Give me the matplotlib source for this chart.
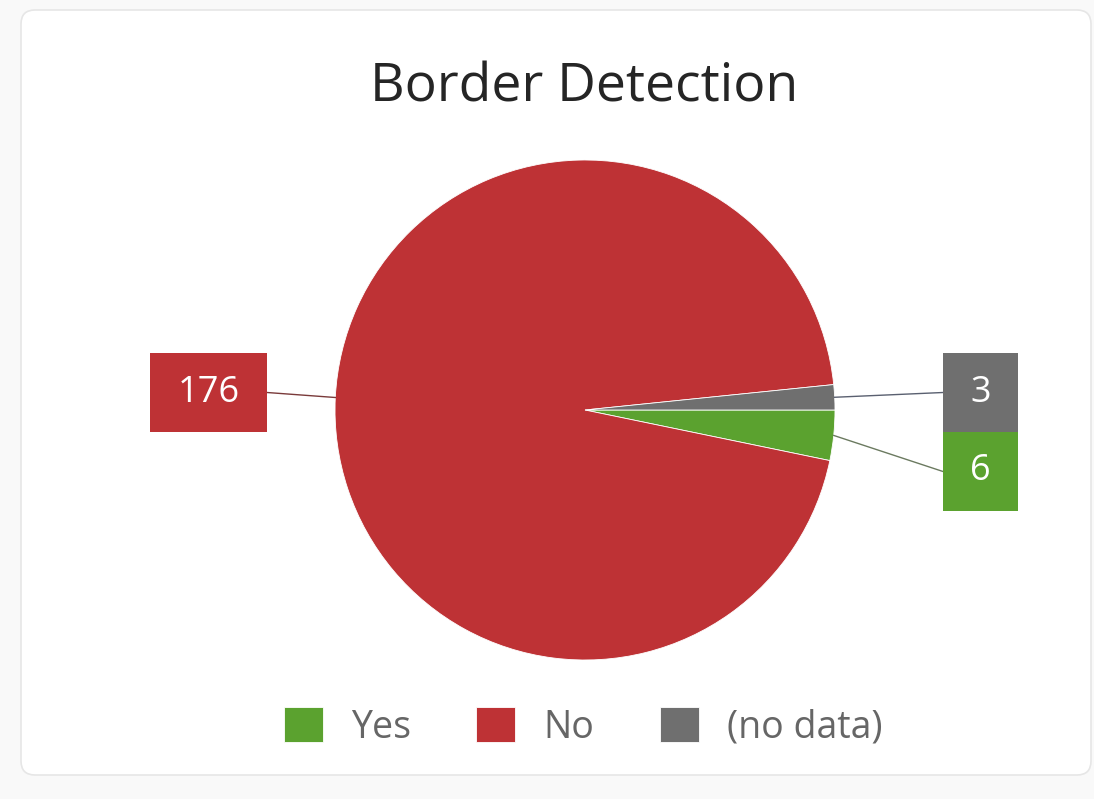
"""
Border Detection pie chart
"""
import matplotlib.pyplot as plt
from matplotlib.patches import Rectangle, FancyBboxPatch
import numpy as np

# data
labels = ['Yes', 'No', '(no data)']
values = [6, 176, 3]
colors = ['#5ba22f', '#be3235', '#6f6f6f']

W, H = 1094, 799
plt.rcParams['font.family'] = ['Open Sans', 'DejaVu Sans']

fig = plt.figure(figsize=(W / 100, H / 100), dpi=100, facecolor='#f9f9f9')
ax = fig.add_axes([0, 0, 1, 1])


def py(y):
    # pixel row (top-down) -> data y
    return H - y


# card background
card = FancyBboxPatch((21, py(775)), 1070, 765,
                      boxstyle='round,pad=0,rounding_size=14',
                      fc='white', ec='#e6e6e6', lw=1.2)
ax.add_patch(card)

# pie
cx, cy, r = 585, py(410), 250
wedges, _ = ax.pie(values, colors=colors, startangle=0, counterclock=False,
                   center=(cx, cy), radius=r,
                   wedgeprops=dict(edgecolor='white', linewidth=0.6))

ax.set_xlim(0, W)
ax.set_ylim(0, H)
ax.set_aspect('equal')
ax.axis('off')

# label boxes: (x0, top, width, height) in pixels, per slice
boxes = {
    1: (150, 353, 117, 79),
    2: (943, 353, 75, 79),
    0: (943, 432, 75, 79),
}
line_colors = {0: '#6b7a60', 1: '#7a3a3a', 2: '#5a6070'}

for i, (x0, top, bw, bh) in boxes.items():
    w = wedges[i]
    bcy = py(top + bh / 2)
    ax.add_patch(Rectangle((x0, py(top + bh)), bw, bh, fc=colors[i], ec='none', zorder=4))
    ax.text(x0 + bw / 2, bcy, str(values[i]), ha='center', va='center',
            fontsize=26, color='white', zorder=5)
    if i == 1:
        # big slice: leader goes to the rim just below the box line
        a = np.pi - np.arcsin((bcy - 5 - cy) / r)
        ex = x0 + bw
    else:
        a = np.radians((w.theta1 + w.theta2) / 2)
        ex = x0
    sx, sy = cx + r * np.cos(a), cy + r * np.sin(a)
    ax.plot([sx, ex], [sy, bcy], color=line_colors[i], lw=1.0, zorder=3)

# title
ax.text(584, py(88), 'Border Detection', ha='center', va='center',
        fontsize=38.5, color='#252525')

# legend
ax.legend(wedges, labels, loc='center', bbox_to_anchor=(583 / W, 1 - 727 / H),
          ncol=3, frameon=False, fontsize=27, handlelength=1.04,
          handleheight=1.04, handletextpad=0.75, columnspacing=1.75,
          labelcolor='#666666')

fig.savefig('out.png', dpi=100, facecolor=fig.get_facecolor())
